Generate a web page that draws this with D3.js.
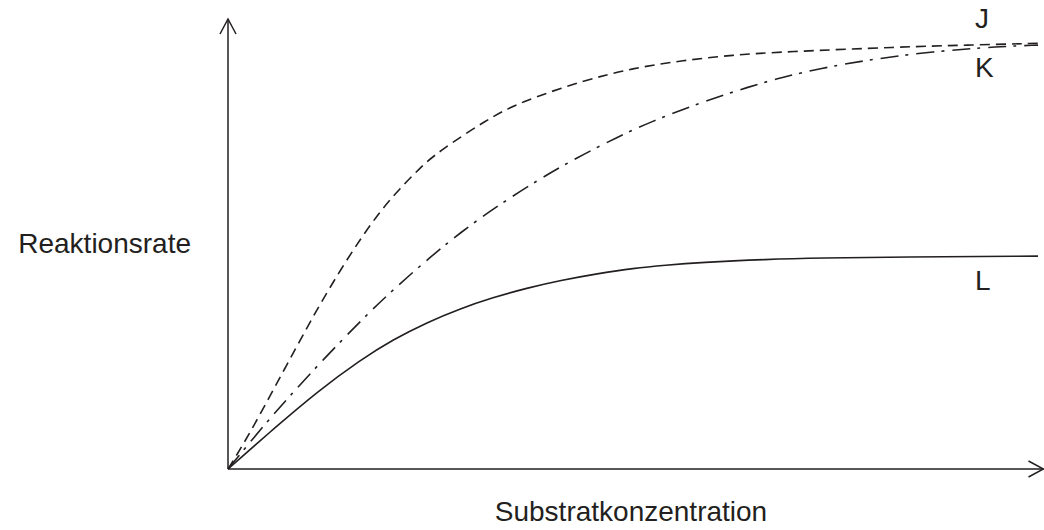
<!DOCTYPE html>
<html>
<head>
<meta charset="utf-8">
<script src="https://cdn.jsdelivr.net/npm/d3@7"></script>
<style>
  body { margin: 0; background: #fff; }
  text { font-family: "Liberation Sans", Arial, sans-serif; fill: #231f20; }
</style>
</head>
<body>
<script>
// chart size
const width = 1044;
const height = 530;

// curve labels and axis titles
const curveLabels = ['J', 'K', 'L'];
const xTitle = 'Substratkonzentration';
const yTitle = 'Reaktionsrate';

// J - dashed
const concJ = [0, 1.7, 4.2, 7.0, 9.9, 11.4, 13.8, 16.3, 18.8, 21.2, 23.7, 25.8, 32.0, 36.0, 43.8, 50.0, 56.2, 62.3, 68.5, 83.0, 91.2, 100];
const rateJ = [0, 4.9, 12.9, 22.3, 31.9, 36.7, 44.0, 51.0, 57.3, 62.3, 66.9, 70.3, 77.7, 81.5, 86.3, 89.1, 90.8, 92.0, 92.7, 93.8, 94.2, 94.6];

// K - dash dot
const concK = [0, 4.2, 7.4, 12.0, 16.7, 20.4, 25.3, 28.6, 32.7, 38.5, 43.1, 48.0, 52.1, 58.3, 64.4, 68.5, 73.1, 78.9, 87.0, 95.3, 100];
const rateK = [0, 9.2, 15.8, 24.8, 33.5, 39.9, 47.6, 52.4, 57.8, 64.5, 69.2, 73.7, 77.1, 81.4, 85.0, 87.1, 89.0, 90.9, 92.8, 93.9, 94.2];

// L - solid
const concL = [0, 5.8, 11.1, 16.3, 20.4, 24.6, 28.6, 32.7, 36.9, 41.0, 45.9, 50.0, 54.0, 58.3, 66.5, 73.1, 83.0, 100];
const rateL = [0, 9.2, 17.3, 24.2, 28.8, 32.6, 35.6, 38.1, 40.2, 41.9, 43.5, 44.6, 45.3, 45.9, 46.6, 46.9, 47.1, 47.3];

const ink = '#231f20';

const x = d3.scaleLinear().domain([0, 100]).range([228, 1038]);
const y = d3.scaleLinear().domain([0, 100]).range([469, 19]);

const svg = d3.select('body').append('svg')
  .attr('width', width)
  .attr('height', height);

// axes with open arrow heads
const xEnd = x.invert(1043.5);
svg.append('line')
  .attr('x1', x(0)).attr('y1', y(0))
  .attr('x2', x(xEnd)).attr('y2', y(0))
  .attr('stroke', ink).attr('stroke-width', 1.5);
svg.append('line')
  .attr('x1', x(0)).attr('y1', y(0))
  .attr('x2', x(0)).attr('y2', y(100))
  .attr('stroke', ink).attr('stroke-width', 1.5);

svg.append('path')
  .attr('d', `M${x(xEnd) - 15},${y(0) - 8}L${x(xEnd)},${y(0)}L${x(xEnd) - 15},${y(0) + 8}`)
  .attr('fill', 'none').attr('stroke', ink).attr('stroke-width', 1.5);
svg.append('path')
  .attr('d', `M${x(0) - 8},${y(100) + 15}L${x(0)},${y(100)}L${x(0) + 8},${y(100) + 15}`)
  .attr('fill', 'none').attr('stroke', ink).attr('stroke-width', 1.5);

const line = d3.line()
  .x(d => x(d[0]))
  .y(d => y(d[1]))
  .curve(d3.curveBasis);

const curves = [
  {pts: d3.zip(concJ, rateJ), dash: '10,6'},
  {pts: d3.zip(concK, rateK), dash: '18,7,3,8'},
  {pts: d3.zip(concL, rateL), dash: null}
];

curves.forEach(c => {
  svg.append('path')
    .datum(c.pts)
    .attr('fill', 'none')
    .attr('stroke', ink)
    .attr('stroke-width', 1.6)
    .attr('stroke-dasharray', c.dash)
    .attr('d', line);
});

// curve labels
const labelPos = [[975, 28], [975, 77], [975, 290]];
curveLabels.forEach((t, i) => {
  svg.append('text')
    .attr('x', labelPos[i][0])
    .attr('y', labelPos[i][1])
    .attr('font-size', 28)
    .text(t);
});

svg.append('text')
  .attr('x', 191).attr('y', 253)
  .attr('text-anchor', 'end')
  .attr('font-size', 28)
  .text(yTitle);

svg.append('text')
  .attr('x', 631).attr('y', 521)
  .attr('text-anchor', 'middle')
  .attr('font-size', 28)
  .text(xTitle);
</script>
</body>
</html>
